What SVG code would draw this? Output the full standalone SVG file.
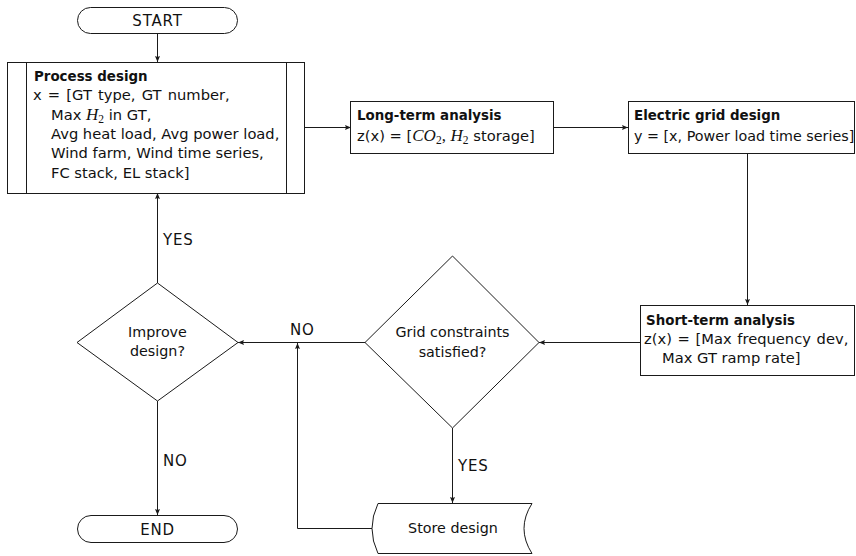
<svg xmlns="http://www.w3.org/2000/svg" width="856" height="556" viewBox="0 0 856 556">
  <style>
    .shape { fill: #ffffff; stroke: #1a1a1a; stroke-width: 1; }
    .edge { fill: none; stroke: #1a1a1a; stroke-width: 1; }
    text { font-family: "DejaVu Sans", "Liberation Sans", sans-serif; fill: #111111; }
    .t { font-size: 14.7px; }
    .d { font-size: 14.3px; }
    .h { font-size: 13.4px; font-weight: bold; }
    .lbl { font-size: 15px; letter-spacing: 0.8px; }
    .c { text-anchor: middle; }
    .m { font-family: "Liberation Serif", "DejaVu Serif", serif; font-style: italic; font-size: 17px; }
    .sub { font-family: "Liberation Serif", "DejaVu Serif", serif; font-size: 11.5px; }
    .mr { font-family: "Liberation Serif", "DejaVu Serif", serif; font-size: 17px; }
  </style>
  <defs>
    <marker id="arrow" markerUnits="userSpaceOnUse" markerWidth="6" markerHeight="5" viewBox="0 0 6 5" refX="6" refY="2.5" orient="auto">
      <path d="M0,0 L6,2.5 L0,5 L1,2.5 Z" fill="#1a1a1a"/>
    </marker>
  </defs>

  <!-- connectors -->
  <g id="connectors">
    <line class="edge" x1="157.5" y1="34" x2="157.5" y2="62" marker-end="url(#arrow)"/>
    <line class="edge" x1="305" y1="127.5" x2="351" y2="127.5" marker-end="url(#arrow)"/>
    <line class="edge" x1="553" y1="127.5" x2="628" y2="127.5" marker-end="url(#arrow)"/>
    <line class="edge" x1="747.5" y1="154" x2="747.5" y2="305" marker-end="url(#arrow)"/>
    <line class="edge" x1="640" y1="342.5" x2="539" y2="342.5" marker-end="url(#arrow)"/>
    <line class="edge" x1="365" y1="342.5" x2="238" y2="342.5" marker-end="url(#arrow)"/>
    <line class="edge" x1="452.5" y1="428" x2="452.5" y2="503" marker-end="url(#arrow)"/>
    <path class="edge" d="M372,528.5 H297.5 V343" marker-end="url(#arrow)"/>
    <line class="edge" x1="157.5" y1="283" x2="157.5" y2="193" marker-end="url(#arrow)"/>
    <line class="edge" x1="157.5" y1="401" x2="157.5" y2="515" marker-end="url(#arrow)"/>
    <text class="lbl" x="163" y="245">YES</text>
    <text class="lbl" x="290" y="335">NO</text>
    <text class="lbl" x="163" y="466">NO</text>
    <text class="lbl" x="458" y="471">YES</text>
  </g>

  <!-- start terminal -->
  <g id="start">
    <rect class="shape" x="77.5" y="7.5" width="160" height="26" rx="13" ry="13"/>
    <text class="lbl c" x="157.5" y="26">START</text>
  </g>

  <!-- predefined process: process design -->
  <g id="process-design">
    <rect class="shape" x="7.5" y="62.5" width="297" height="131"/>
    <line class="edge" x1="26.5" y1="62.5" x2="26.5" y2="193.5"/>
    <line class="edge" x1="286.5" y1="62.5" x2="286.5" y2="193.5"/>
    <text class="h" x="34" y="81">Process design</text>
    <text class="t" x="33" y="100" word-spacing="1.5">x = [GT type, GT number,</text>
    <text class="t" x="51" y="120">Max <tspan class="m">H</tspan><tspan class="sub" dy="3">2</tspan><tspan dy="-3"> in GT,</tspan></text>
    <text class="t" x="51" y="139">Avg heat load, Avg power load,</text>
    <text class="t" x="51" y="158">Wind farm, Wind time series,</text>
    <text class="t" x="51" y="178">FC stack, EL stack]</text>
  </g>

  <!-- long-term analysis -->
  <g id="long-term">
    <rect class="shape" x="350.5" y="101.5" width="203" height="52"/>
    <text class="h" x="357" y="120">Long-term analysis</text>
    <text class="t" x="357" y="141">z(x) = [<tspan class="m">CO</tspan><tspan class="sub" dy="3">2</tspan><tspan class="mr" dy="-3">,</tspan> <tspan class="m">H</tspan><tspan class="sub" dy="3">2</tspan><tspan dy="-3"> storage]</tspan></text>
  </g>

  <!-- electric grid design -->
  <g id="electric-grid">
    <rect class="shape" x="628.5" y="101.5" width="226" height="52"/>
    <text class="h" x="634" y="120">Electric grid design</text>
    <text class="d" x="634" y="141">y = [x, Power load time series]</text>
  </g>

  <!-- short-term analysis -->
  <g id="short-term">
    <rect class="shape" x="640.5" y="305.5" width="214" height="70"/>
    <text class="h" x="646" y="325">Short-term analysis</text>
    <text class="t" x="644" y="344" word-spacing="1">z(x) = [Max frequency dev,</text>
    <text class="t" x="662" y="363">Max GT ramp rate]</text>
  </g>

  <!-- decision: grid constraints -->
  <g id="grid-check">
    <polygon class="shape" points="452.5,256 539,342.5 452.5,428 365,342.5"/>
    <text class="d c" x="452.5" y="337">Grid constraints</text>
    <text class="d c" x="452.5" y="357">satisfied?</text>
  </g>

  <!-- decision: improve design -->
  <g id="improve">
    <polygon class="shape" points="157.5,283 238,342.5 157.5,401 77,342.5"/>
    <text class="d c" x="157.5" y="337">Improve</text>
    <text class="d c" x="157.5" y="356">design?</text>
  </g>

  <!-- stored data -->
  <g id="store">
    <path class="shape" d="M378,503.5 H532 Q516,528.5 532,553.5 H378 Q366,528.5 378,503.5 Z"/>
    <text class="d c" x="453" y="533">Store design</text>
  </g>

  <!-- end terminal -->
  <g id="end">
    <rect class="shape" x="77.5" y="515.5" width="160" height="27" rx="13.5" ry="13.5"/>
    <text class="lbl c" x="157.5" y="535">END</text>
  </g>
</svg>
